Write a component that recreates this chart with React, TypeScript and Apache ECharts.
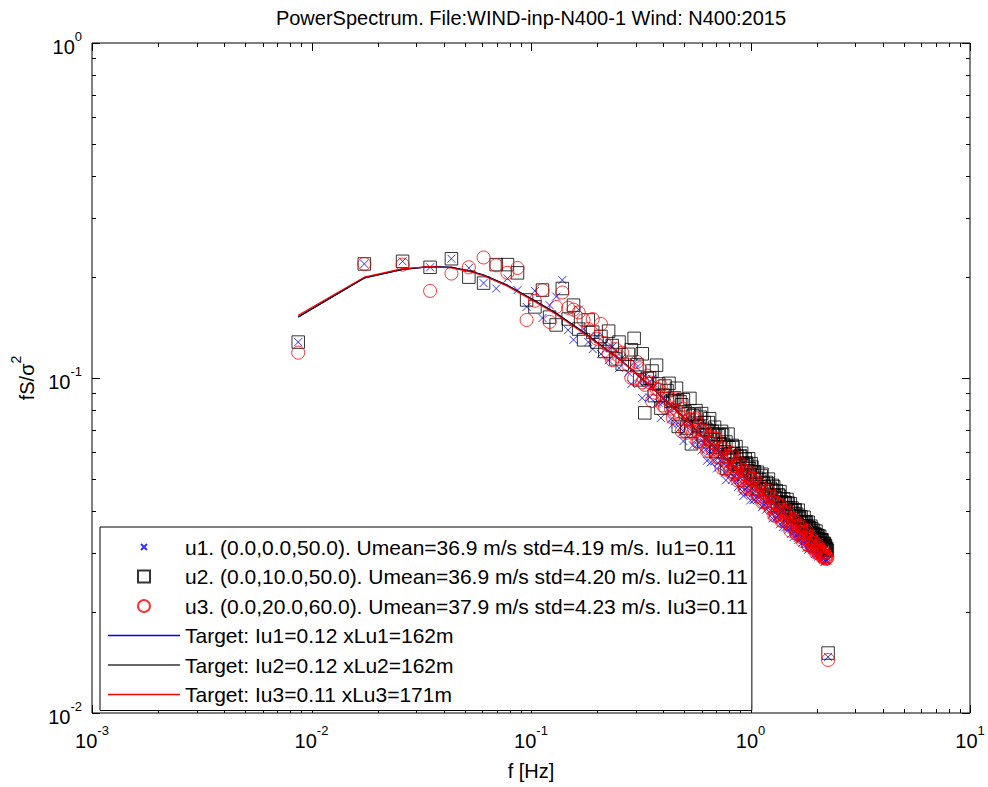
import React, { useEffect, useRef } from 'react';
import * as echarts from 'echarts';

// Frequencies (Hz) of the spectral estimates shown (even-index estimates)
const freqs = [
  0.0087, 0.0174, 0.0260, 0.0347, 0.0434, 0.0521, 0.0608, 0.0694, 0.0781, 0.0868,
  0.0955, 0.1042, 0.1128, 0.1215, 0.1302, 0.1389, 0.1476, 0.1562, 0.1649, 0.1736,
  0.1823, 0.1910, 0.1996, 0.2083, 0.2170, 0.2257, 0.2344, 0.2430, 0.2517, 0.2604,
  0.2778, 0.2951, 0.3125, 0.3298, 0.3472, 0.3646, 0.3819, 0.3993, 0.4166, 0.4340,
  0.4514, 0.4687, 0.4861, 0.5034, 0.5208, 0.5382, 0.5555, 0.5729, 0.5902, 0.6076,
  0.6250, 0.6423, 0.6597, 0.6770, 0.6944, 0.7118, 0.7291, 0.7465, 0.7638, 0.7812,
  0.7986, 0.8159, 0.8333, 0.8506, 0.8680, 0.8854, 0.9027, 0.9201, 0.9374, 0.9548,
  0.9722, 0.9895, 1.0069, 1.0242, 1.0416,
  1.0676, 1.0937, 1.1197, 1.1458, 1.1718, 1.1978, 1.2239, 1.2499, 1.2760, 1.3020,
  1.3280, 1.3541, 1.3801, 1.4062, 1.4322, 1.4582, 1.4843, 1.5103, 1.5364, 1.5624,
  1.5884, 1.6145, 1.6405, 1.6666, 1.6926, 1.7186, 1.7447, 1.7707, 1.7968, 1.8228,
  1.8488, 1.8749, 1.9009, 1.9270, 1.9530, 1.9790, 2.0051, 2.0311, 2.0572, 2.0832,
  2.1092, 2.1353, 2.1613, 2.1874, 2.2134, 2.2394, 2.2568,
];

const u1 = [
  0.128, 0.219, 0.223, 0.214, 0.227, 0.213, 0.192, 0.185, 0.198, 0.183,
  0.163, 0.182, 0.151, 0.165, 0.175, 0.196, 0.139, 0.130, 0.160, 0.140,
  0.128, 0.122, 0.133, 0.118, 0.127, 0.113, 0.124, 0.121, 0.107, 0.115,
  0.1037, 0.1113, 0.0967, 0.1014, 0.0876, 0.0941, 0.0843, 0.0846, 0.0883, 0.0753,
  0.0815, 0.0733, 0.0685, 0.0739, 0.0760, 0.0680, 0.0701, 0.0632, 0.0696, 0.0642,
  0.0611, 0.0646, 0.0560, 0.0606, 0.0621, 0.0558, 0.0567, 0.0600, 0.0521, 0.0548,
  0.0557, 0.0517, 0.0565, 0.0492, 0.0524, 0.0496, 0.0522, 0.0458, 0.0489, 0.0498,
  0.0458, 0.0477, 0.0497, 0.0453, 0.0434,
  0.0460, 0.0439, 0.0460, 0.0418, 0.0429, 0.0410, 0.0427, 0.0391, 0.0402, 0.0414,
  0.0389, 0.0376, 0.0391, 0.0359, 0.0378, 0.0382, 0.0358, 0.0362, 0.0343, 0.0362,
  0.0347, 0.0362, 0.0333, 0.0343, 0.0330, 0.0334, 0.0341, 0.0324, 0.0311, 0.0328,
  0.0312, 0.0319, 0.0310, 0.0320, 0.0308, 0.0299, 0.0309, 0.0297, 0.0301, 0.0296,
  0.0303, 0.0288, 0.0292, 0.0293, 0.0284, 0.0285, 0.0147,
];

const u2 = [
  0.128, 0.219, 0.223, 0.214, 0.227, 0.200, 0.192, 0.218, 0.218, 0.206,
  0.171, 0.163, 0.183, 0.152, 0.144, 0.185, 0.150, 0.165, 0.140, 0.130,
  0.149, 0.137, 0.128, 0.133, 0.120, 0.138, 0.125, 0.114, 0.128, 0.110,
  0.1177, 0.1313, 0.0987, 0.0787, 0.1000, 0.0886, 0.0960, 0.0889, 0.0917, 0.0852,
  0.0872, 0.0717, 0.0832, 0.0792, 0.0782, 0.0636, 0.0779, 0.0723, 0.0764, 0.0676,
  0.0703, 0.0736, 0.0655, 0.0681, 0.0603, 0.0673, 0.0633, 0.0676, 0.0602, 0.0537,
  0.0619, 0.0595, 0.0620, 0.0552, 0.0583, 0.0554, 0.0585, 0.0556, 0.0494, 0.0558,
  0.0528, 0.0536, 0.0555, 0.0501, 0.0525,
  0.0502, 0.0467, 0.0510, 0.0485, 0.0464, 0.0484, 0.0444, 0.0463, 0.0473, 0.0439,
  0.0417, 0.0444, 0.0427, 0.0410, 0.0425, 0.0409, 0.0423, 0.0388, 0.0403, 0.0387,
  0.0402, 0.0387, 0.0365, 0.0386, 0.0372, 0.0362, 0.0372, 0.0361, 0.0372, 0.0345,
  0.0355, 0.0345, 0.0355, 0.0342, 0.0334, 0.0340, 0.0331, 0.0338, 0.0322, 0.0326,
  0.0327, 0.0312, 0.0319, 0.0314, 0.0308, 0.0306, 0.0151,
];

const u3 = [
  0.119, 0.219, 0.218, 0.182, 0.205, 0.214, 0.229, 0.217, 0.206, 0.213,
  0.149, 0.170, 0.183, 0.147, 0.163, 0.180, 0.162, 0.160, 0.157, 0.149,
  0.140, 0.150, 0.131, 0.145, 0.127, 0.118, 0.113, 0.122, 0.116, 0.119,
  0.1091, 0.0998, 0.1069, 0.0954, 0.0971, 0.0905, 0.0924, 0.0828, 0.0866, 0.0810,
  0.0791, 0.0796, 0.0693, 0.0694, 0.0753, 0.0694, 0.0750, 0.0646, 0.0702, 0.0662,
  0.0690, 0.0607, 0.0642, 0.0606, 0.0658, 0.0582, 0.0597, 0.0612, 0.0533, 0.0582,
  0.0546, 0.0584, 0.0516, 0.0546, 0.0524, 0.0560, 0.0496, 0.0530, 0.0473, 0.0503,
  0.0518, 0.0477, 0.0497, 0.0453, 0.0501,
  0.0464, 0.0444, 0.0469, 0.0427, 0.0446, 0.0445, 0.0414, 0.0442, 0.0411, 0.0389,
  0.0421, 0.0392, 0.0403, 0.0374, 0.0398, 0.0382, 0.0392, 0.0362, 0.0373, 0.0358,
  0.0372, 0.0344, 0.0362, 0.0347, 0.0362, 0.0334, 0.0344, 0.0334, 0.0345, 0.0318,
  0.0329, 0.0332, 0.0316, 0.0323, 0.0308, 0.0312, 0.0306, 0.0316, 0.0298, 0.0305,
  0.0300, 0.0294, 0.0301, 0.0293, 0.0293, 0.0291, 0.0144,
];

// Interleaved estimates in the dense high-frequency range
const freqs2 = [
  0.2864, 0.3038, 0.3212, 0.3385, 0.3559, 0.3732, 0.3906, 0.4080, 0.4253, 0.4427,
  0.4600, 0.4774, 0.4948, 0.5121, 0.5295, 0.5468, 0.5642, 0.5816, 0.5989, 0.6163,
  0.6336, 0.6510, 0.6684, 0.6857, 0.7031, 0.7204, 0.7378, 0.7552, 0.7725, 0.7899,
  0.8072, 0.8246, 0.8420, 0.8593, 0.8767, 0.8940, 0.9114, 0.9288, 0.9461, 0.9635,
  0.9808, 0.9982, 1.0156, 1.0329,
  1.0763, 1.1024, 1.1284, 1.1544, 1.1805, 1.2065, 1.2326, 1.2586, 1.2846, 1.3107,
  1.3367, 1.3628, 1.3888, 1.4148, 1.4409, 1.4669, 1.4930, 1.5190, 1.5450, 1.5711,
  1.5971, 1.6232, 1.6492, 1.6752, 1.7013, 1.7273, 1.7534, 1.7794, 1.8054, 1.8315,
  1.8575, 1.8836, 1.9096, 1.9356, 1.9617, 1.9877, 2.0138, 2.0398, 2.0658, 2.0919,
  2.1179, 2.1440, 2.1700, 2.1960, 2.2221,
];

const u1b = [
  0.0959, 0.1075, 0.0871, 0.0949, 0.0993, 0.0837, 0.0760, 0.0860, 0.0796, 0.0727,
  0.0821, 0.0709, 0.0648, 0.0716, 0.0745, 0.0629, 0.0652, 0.0722, 0.0608, 0.0643,
  0.0566, 0.0603, 0.0636, 0.0564, 0.0537, 0.0589, 0.0545, 0.0602, 0.0495, 0.0539,
  0.0554, 0.0497, 0.0507, 0.0549, 0.0473, 0.0504, 0.0471, 0.0445, 0.0506, 0.0471,
  0.0455, 0.0431, 0.0469, 0.0432,
  0.0434, 0.0451, 0.0412, 0.0429, 0.0405, 0.0430, 0.0403, 0.0381, 0.0404, 0.0383,
  0.0387, 0.0366, 0.0390, 0.0369, 0.0358, 0.0369, 0.0353, 0.0372, 0.0353, 0.0335,
  0.0353, 0.0338, 0.0328, 0.0346, 0.0333, 0.0323, 0.0329, 0.0320, 0.0327, 0.0307,
  0.0314, 0.0321, 0.0306, 0.0309, 0.0298, 0.0307, 0.0298, 0.0293, 0.0303, 0.0295,
  0.0290, 0.0293, 0.0282, 0.0286, 0.0286,
];

const u2b = [
  0.1214, 0.1096, 0.1181, 0.0997, 0.1049, 0.1092, 0.0813, 0.0946, 0.0964, 0.0858,
  0.0932, 0.0849, 0.0861, 0.0709, 0.0869, 0.0772, 0.0799, 0.0716, 0.0783, 0.0736,
  0.0697, 0.0756, 0.0693, 0.0713, 0.0622, 0.0679, 0.0693, 0.0631, 0.0644, 0.0680,
  0.0594, 0.0629, 0.0594, 0.0624, 0.0547, 0.0583, 0.0596, 0.0548, 0.0572, 0.0551,
  0.0574, 0.0515, 0.0542, 0.0523,
  0.0523, 0.0497, 0.0516, 0.0474, 0.0488, 0.0499, 0.0468, 0.0478, 0.0446, 0.0461,
  0.0448, 0.0458, 0.0422, 0.0436, 0.0424, 0.0434, 0.0410, 0.0421, 0.0409, 0.0394,
  0.0404, 0.0392, 0.0403, 0.0381, 0.0385, 0.0368, 0.0384, 0.0371, 0.0361, 0.0371,
  0.0357, 0.0361, 0.0345, 0.0351, 0.0342, 0.0349, 0.0339, 0.0331, 0.0337, 0.0328,
  0.0329, 0.0320, 0.0321, 0.0316, 0.0310,
];

const u3b = [
  0.1001, 0.1117, 0.0971, 0.1016, 0.0853, 0.0928, 0.0946, 0.0817, 0.0872, 0.0760,
  0.0869, 0.0763, 0.0808, 0.0686, 0.0752, 0.0686, 0.0757, 0.0647, 0.0682, 0.0696,
  0.0605, 0.0667, 0.0611, 0.0663, 0.0580, 0.0613, 0.0539, 0.0619, 0.0569, 0.0584,
  0.0526, 0.0596, 0.0523, 0.0543, 0.0494, 0.0551, 0.0508, 0.0532, 0.0466, 0.0511,
  0.0525, 0.0466, 0.0499, 0.0466,
  0.0448, 0.0483, 0.0426, 0.0456, 0.0427, 0.0460, 0.0408, 0.0427, 0.0388, 0.0424,
  0.0399, 0.0418, 0.0374, 0.0397, 0.0373, 0.0403, 0.0369, 0.0350, 0.0379, 0.0364,
  0.0375, 0.0342, 0.0361, 0.0339, 0.0357, 0.0326, 0.0343, 0.0330, 0.0350, 0.0317,
  0.0328, 0.0335, 0.0312, 0.0316, 0.0323, 0.0301, 0.0308, 0.0312, 0.0300, 0.0304,
  0.0299, 0.0290, 0.0300, 0.0289, 0.0289,
];

// Target spectra
const lineFreq = [0.0087, 0.0174, 0.0260, 0.0347, 0.0434, 0.0521, 0.0608, 0.0781, 0.1042, 0.1302, 0.1736, 0.2604, 0.3472, 0.5208, 0.7812, 1.0416, 1.5190, 2.2568];
const target1 = [0.152, 0.199, 0.211, 0.215, 0.214, 0.209, 0.203, 0.189, 0.170, 0.156, 0.137, 0.112, 0.095, 0.074, 0.057, 0.048, 0.038, 0.0293];
const target2 = [0.152, 0.199, 0.211, 0.215, 0.214, 0.209, 0.203, 0.189, 0.170, 0.156, 0.137, 0.112, 0.095, 0.074, 0.057, 0.048, 0.038, 0.0293];
const target3 = [0.154, 0.200, 0.212, 0.215, 0.213, 0.208, 0.202, 0.188, 0.169, 0.155, 0.136, 0.112, 0.095, 0.074, 0.057, 0.048, 0.038, 0.0294];

const names = [
  'u1. (0.0,0.0,50.0). Umean=36.9 m/s std=4.19 m/s. Iu1=0.11',
  'u2. (0.0,10.0,50.0). Umean=36.9 m/s std=4.20 m/s. Iu2=0.11',
  'u3. (0.0,20.0,60.0). Umean=37.9 m/s std=4.23 m/s. Iu3=0.11',
  'Target: Iu1=0.12 xLu1=162m',
  'Target: Iu2=0.12 xLu2=162m',
  'Target: Iu3=0.11 xLu3=171m',
];

const titleText = 'PowerSpectrum. File:WIND-inp-N400-1 Wind: N400:2015';

// Axis tick positions (decades and minor mantissas)
const xDecades = [-3, -2, -1, 0, 1];
const yDecades = [-2, -1, 0];
const mantissas = [2, 3, 4, 5, 6, 7, 8, 9];

const FONT = '"Liberation Sans", Arial, Helvetica, sans-serif';

const pairs = (xs: number[], ys: number[]) => xs.map((x, i) => [x, ys[i]]);

export default function App() {
  const ref = useRef<HTMLDivElement>(null);
  useEffect(() => {
    const chart = echarts.init(ref.current!, null, { renderer: 'svg' });

    const xTickData: number[][] = [];
    xDecades.forEach((e, i) => {
      xTickData.push([Math.pow(10, e), 1, 1]);
      if (i < xDecades.length - 1) mantissas.forEach((m) => xTickData.push([m * Math.pow(10, e), 1, 0]));
    });
    const yTickData: number[][] = [];
    yDecades.forEach((e, i) => {
      yTickData.push([1, Math.pow(10, e), 1]);
      if (i < yDecades.length - 1) mantissas.forEach((m) => yTickData.push([1, m * Math.pow(10, e), 0]));
    });

    const tickStyle = { stroke: '#000', lineWidth: 1 };

    const labelRich = {
      b: { fontSize: 20, lineHeight: 20, padding: [8, 0, 0, 0], fontFamily: FONT, color: '#000' },
      e: { fontSize: 13, lineHeight: 14, padding: [0, 0, 14, 0], fontFamily: FONT, color: '#000' },
    };
    const expFormatter = (v: number) => `{b|10}{e|${Math.round(Math.log10(v))}}`;
    const lineIcon = 'path://M0,0L72,0L72,1.6L0,1.6Z';

    const option: any = {
      animation: false,
      backgroundColor: '#fff',
      title: {
        text: titleText,
        left: 531,
        top: 8,
        padding: 0,
        textAlign: 'center',
        textStyle: { fontFamily: FONT, fontSize: 20, fontWeight: 'normal', color: '#000' },
      },
      grid: { left: 92, top: 43, right: 18, bottom: 74, show: true, borderColor: '#000', borderWidth: 1, backgroundColor: 'transparent' },
      xAxis: {
        type: 'log',
        logBase: 10,
        min: 0.001,
        max: 10,
        axisLine: { show: false },
        axisTick: { show: false },
        splitLine: { show: false },
        axisLabel: { formatter: expFormatter, rich: labelRich, margin: 14, fontFamily: FONT, color: '#000' },
        name: 'f [Hz]',
        nameLocation: 'middle',
        nameGap: 48,
        nameTextStyle: { fontFamily: FONT, fontSize: 20, color: '#000' },
      },
      yAxis: {
        type: 'log',
        logBase: 10,
        min: 0.01,
        max: 1,
        axisLine: { show: false },
        axisTick: { show: false },
        splitLine: { show: false },
        axisLabel: { formatter: expFormatter, rich: labelRich, margin: 10, fontFamily: FONT, color: '#000' },
        name: '{a|fS/σ}{s|2}',
        nameLocation: 'middle',
        nameGap: 46,
        nameTextStyle: {
          fontFamily: FONT,
          color: '#000',
          rich: {
            a: { fontSize: 20, lineHeight: 20, padding: [8, 0, 0, 0], fontFamily: FONT, color: '#000' },
            s: { fontSize: 14, lineHeight: 14, padding: [0, 0, 14, 0], fontFamily: FONT, color: '#000' },
          },
        },
      },
      legend: {
        orient: 'vertical',
        left: 100,
        top: 527,
        padding: [9, 4, 5, 8],
        itemWidth: 72,
        itemHeight: 12,
        itemGap: 7.5,
        selectedMode: false,
        backgroundColor: '#fff',
        borderColor: '#000',
        borderWidth: 1,
        textStyle: { fontFamily: FONT, fontSize: 21, lineHeight: 22, color: '#000' },
        data: [
          { name: names[0], icon: 'path://M0,0M3,3L9,9M9,3L3,9M12,12' },
          { name: names[1], icon: 'path://M1,1L11,1L11,11L1,11Z' },
          { name: names[2], icon: 'circle' },
          { name: names[3], icon: lineIcon, itemStyle: { color: '#0000ff' } },
          { name: names[4], icon: lineIcon, itemStyle: { color: '#333333' } },
          { name: names[5], icon: lineIcon, itemStyle: { color: '#ff0000' } },
        ],
      },
      series: [
        {
          name: names[0],
          type: 'scatter',
          symbol: 'path://M0,0L10,10M10,0L0,10',
          symbolSize: 8,
          itemStyle: { color: 'transparent', borderColor: '#0000ff', borderWidth: 1 },
          data: pairs(freqs, u1).concat(pairs(freqs2, u1b)),
          silent: true,
        },
        {
          name: names[1],
          type: 'scatter',
          symbol: 'rect',
          symbolSize: 12.5,
          itemStyle: { color: 'transparent', borderColor: '#000000', borderWidth: 1 },
          data: pairs(freqs, u2).concat(pairs(freqs2, u2b)),
          silent: true,
        },
        {
          name: names[2],
          type: 'scatter',
          symbol: 'circle',
          symbolSize: 13,
          itemStyle: { color: 'transparent', borderColor: '#ff0000', borderWidth: 1 },
          data: pairs(freqs, u3).concat(pairs(freqs2, u3b)),
          silent: true,
        },
        {
          name: names[3],
          type: 'line',
          symbol: 'none',
          showSymbol: false,
          lineStyle: { color: '#0000ff', width: 1.2 },
          itemStyle: { color: '#0000ff' },
          data: pairs(lineFreq, target1),
          silent: true,
        },
        {
          name: names[4],
          type: 'line',
          symbol: 'none',
          showSymbol: false,
          lineStyle: { color: '#000000', width: 1.2 },
          itemStyle: { color: '#000000' },
          data: pairs(lineFreq, target2),
          silent: true,
        },
        {
          name: names[5],
          type: 'line',
          symbol: 'none',
          showSymbol: false,
          lineStyle: { color: '#ff0000', width: 1.2 },
          itemStyle: { color: '#ff0000' },
          data: pairs(lineFreq, target3),
          silent: true,
        },
        {
          name: 'xticks',
          type: 'custom',
          silent: true,
          clip: false,
          data: xTickData,
          renderItem: (params: any, api: any) => {
            const cs = params.coordSys;
            const p = api.coord([api.value(0), api.value(1)]);
            const len = api.value(2) ? 8 : 4;
            const x = Math.round(p[0]) + 0.5;
            return {
              type: 'group',
              children: [
                { type: 'line', shape: { x1: x, y1: cs.y + cs.height, x2: x, y2: cs.y + cs.height - len }, style: tickStyle },
                { type: 'line', shape: { x1: x, y1: cs.y, x2: x, y2: cs.y + len }, style: tickStyle },
              ],
            };
          },
        },
        {
          name: 'yticks',
          type: 'custom',
          silent: true,
          clip: false,
          data: yTickData,
          renderItem: (params: any, api: any) => {
            const cs = params.coordSys;
            const p = api.coord([api.value(0), api.value(1)]);
            const len = api.value(2) ? 8 : 4;
            const y = Math.round(p[1]) + 0.5;
            return {
              type: 'group',
              children: [
                { type: 'line', shape: { x1: cs.x, y1: y, x2: cs.x + len, y2: y }, style: tickStyle },
                { type: 'line', shape: { x1: cs.x + cs.width, y1: y, x2: cs.x + cs.width - len, y2: y }, style: tickStyle },
              ],
            };
          },
        },
      ],
    };

    chart.setOption(option);
    return () => chart.dispose();
  }, []);

  return (
    <div
      ref={ref}
      style={{ position: 'fixed', left: 0, top: 0, width: 988, height: 787, background: '#fff' }}
    />
  );
}
